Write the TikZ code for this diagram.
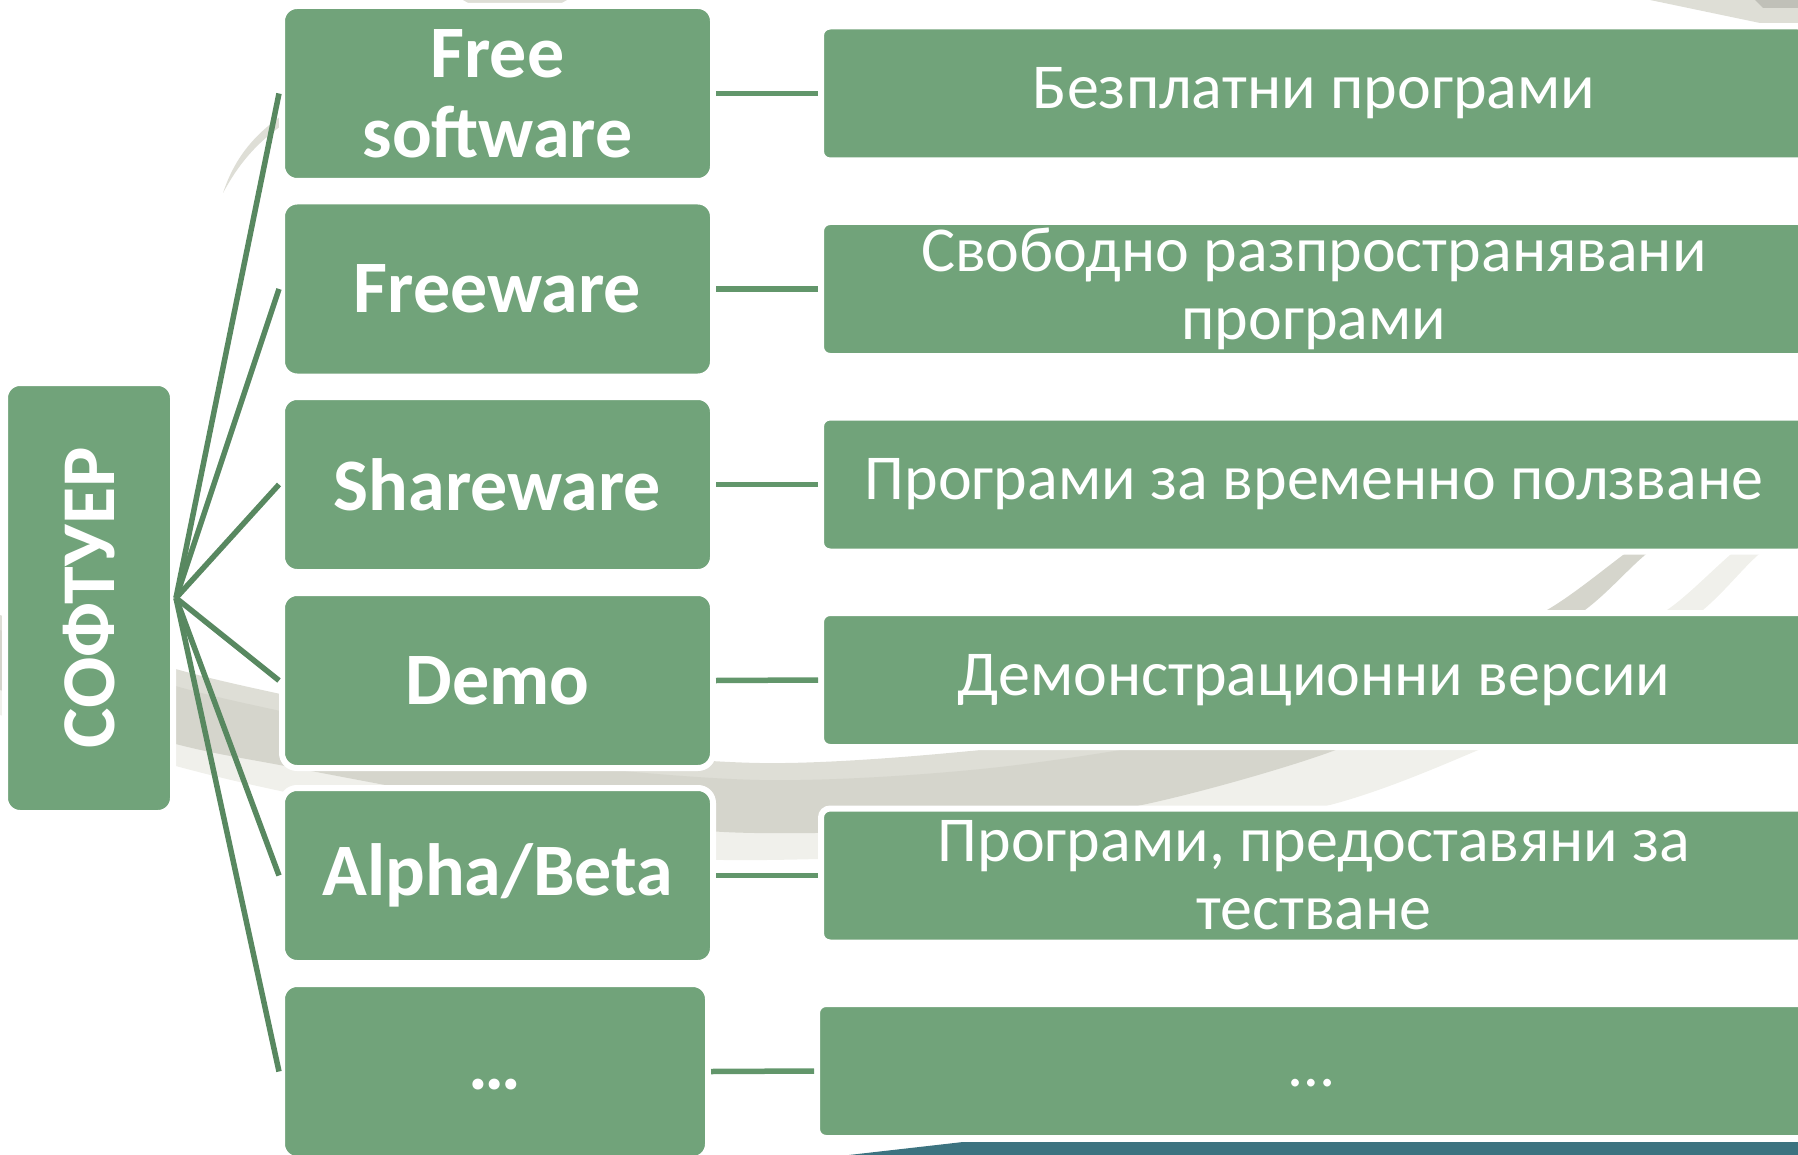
\documentclass[tikz,border=0pt]{standalone}
\usepackage{fontspec}
\setmainfont{Carlito}
\definecolor{boxgreen}{RGB}{113,163,122}
\definecolor{fangreen}{RGB}{88,136,96}
\definecolor{congreen}{RGB}{98,150,107}
\definecolor{bandA}{RGB}{222,222,214}
\definecolor{bandB}{RGB}{213,213,204}
\definecolor{bandC}{RGB}{240,240,235}
\definecolor{tealbar}{RGB}{60,115,128}
\tikzset{
  lbox/.style={fill=boxgreen, draw=white, line width=6pt, rounded corners=15pt,
    minimum width=431pt, minimum height=175pt, inner sep=0pt, text=white,
    align=center, font=\fontsize{74}{80}\selectfont\bfseries},
  rbox/.style={fill=boxgreen, draw=white, line width=6pt, rounded corners=9pt,
    minimum width=986pt, minimum height=134pt, inner sep=0pt, text=white,
    align=center, font=\fontsize{64}{68}\selectfont},
  rootbox/.style={fill=boxgreen, draw=white, line width=6pt, rounded corners=15pt,
    minimum width=168pt, minimum height=430pt, inner sep=0pt},
  rootlabel/.style={rotate=90, text=white, inner sep=0pt,
    font=\fontsize{76}{80}\selectfont\bfseries},
  fan/.style={draw=fangreen, line width=5.5pt},
  con/.style={draw=congreen, line width=5.5pt}
}
\begin{document}
\begin{tikzpicture}[x=1pt,y=-1pt]
\useasboundingbox (0,0) rectangle (1798,1155);
\clip (0,0) rectangle (1798,1155);
% background swooshes
\fill[bandA] plot[smooth] coordinates {(-30,600) (0,615) (172,668) (285,695) (500,740) (760,763) (1000,748) (1250,712) (1450,650) (1547,610)}
  -- plot[smooth] coordinates {(1480,680) (1333,751) (1137,806) (950,828) (724,832) (500,805) (285,766) (172,743) (0,690) (-30,680)} -- cycle;
\fill[bandC] plot[smooth] coordinates {(-30,670) (0,685) (172,738) (285,760) (500,800) (724,828) (950,822) (1137,800) (1333,745) (1500,690) (1590,650) (1667,610) (1730,555) (1800,495) (1850,450)}
  -- plot[smooth] coordinates {(1880,450) (1830,495) (1758,555) (1703,610) (1600,690) (1476,751) (1326,806) (1100,845) (724,860) (500,835) (285,792) (172,765) (0,715) (-30,705)} -- cycle;
\fill[bandB] plot[smooth] coordinates {(-30,615) (0,630) (172,685) (285,712) (500,757) (760,780) (1000,767) (1250,725) (1450,655) (1547,610) (1623,555) (1700,495) (1800,420)}
  -- plot[smooth] coordinates {(1830,420) (1720,495) (1645,555) (1585,610) (1480,680) (1333,751) (1137,806) (950,828) (724,832) (500,805) (285,766) (172,743) (0,690) (-30,680)} -- cycle;
\fill[bandA] (1650,0) -- (1760,23) -- (1805,23) -- (1805,0) -- cycle;
\fill[bandB!90!black] (1755,0) -- (1763,8) -- (1805,8) -- (1805,0) -- cycle;
\fill[bandA] (463,0) -- (567,0) -- (560,4) -- (470,4) -- cycle;
\fill[bandA] (223,193) .. controls (238,165) and (256,143) .. (284,124) -- (284,114) .. controls (252,136) and (234,160) .. (223,193) -- cycle;
\fill[tealbar] (805,1160) -- (963,1142) -- (1805,1142) -- (1805,1160) -- cycle;

% nodes
\node[rootbox] (root) at (89,598) {};
\node[rootlabel] (rootlbl) at (root.center) {СОФТУЕР};

\node[lbox] (l1) at (497.5,93.5) {Free\\software};
\node[lbox] (l2) at (497.5,289) {Freeware};
\node[lbox] (l3) at (497.5,484.5) {Shareware};
\node[lbox] (l4) at (497.5,680.5) {Demo};
\node[lbox] (l5) at (497.5,875.5) {Alpha/Beta};
\node[lbox, minimum width=426pt] (l6) at (495,1071.5) {\vphantom{Fp}…};

\node[rbox] (r1) at (1314,93.5) {Безплатни програми};
\node[rbox] (r2) at (1314,289) {Свободно разпространявани\\програми};
\node[rbox] (r3) at (1314,484.5) {Програми за временно ползване};
\node[rbox] (r4) at (1314,680) {Демонстрационни версии};
\node[rbox] (r5) at (1314,875.5) {Програми, предоставяни за\\тестване};
\node[rbox, minimum width=990pt] (r6) at (1312,1071) {\vphantom{Бр}…};

% connectors
\foreach \i in {1,...,6} {
  \draw[fan] (root.east) -- (l\i.west);
  \draw[con] (l\i.east) -- (r\i.west);
}
\end{tikzpicture}
\end{document}
